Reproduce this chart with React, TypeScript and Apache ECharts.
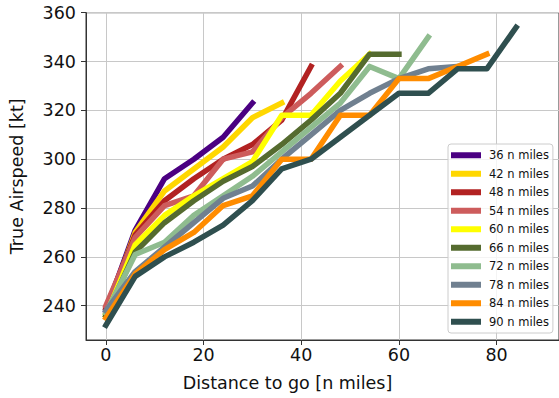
import React, { useEffect, useRef } from 'react';
import * as echarts from 'echarts';

const xValues = [0, 6, 12, 18, 24, 30, 36, 42, 48, 54, 60, 66, 72, 78, 84];
const seriesNames = ['36 n miles', '42 n miles', '48 n miles', '54 n miles', '60 n miles', '66 n miles', '72 n miles', '78 n miles', '84 n miles', '90 n miles'];
const seriesColors = ['#4B0082', '#FFD700', '#B22222', '#CD5C5C', '#FFFF00', '#556B2F', '#8FBC8F', '#708090', '#FF8C00', '#2F4F4F'];

const tas36 = [238, 271, 292, 300, 309, 323];
const tas42 = [237, 270, 287, 296, 305, 317, 323];
const tas48 = [239, 269, 283, 292, 300, 306, 316, 338];
const tas54 = [240, 268, 281, 285, 300, 303, 317, 327, 338];
const tas60 = [236, 265, 277, 285, 292, 299, 318, 318, 332, 343];
const tas66 = [236, 262, 274, 283, 291, 297, 306, 316, 327, 343, 343];
const tas72 = [237, 261, 266, 277, 285, 293, 303, 313, 323, 338, 333, 350];
const tas78 = [238, 254, 264, 274, 284, 289, 300, 310, 320, 327, 333, 337, 338];
const tas84 = [235, 253, 263, 270, 281, 285, 300, 300, 318, 318, 333, 333, 338, 343];
const tas90 = [232, 252, 260, 266, 273, 283, 296, 300, 309, 318, 327, 327, 337, 337, 354];

const allSeries = [tas36, tas42, tas48, tas54, tas60, tas66, tas72, tas78, tas84, tas90];

const xTickValues = [0, 20, 40, 60, 80];
const yTickValues = [240, 260, 280, 300, 320, 340, 360];

const FONT = 'DejaVu Sans';

export default function App() {
  const ref = useRef<HTMLDivElement>(null);
  useEffect(() => {
    document.body.style.margin = '0';
    const chart = echarts.init(ref.current!, null, { renderer: 'svg' });
    const series = allSeries.map((vals, i) => ({
      name: seriesNames[i],
      type: 'line',
      data: vals.map((v, j) => [xValues[j], v]),
      showSymbol: false,
      symbol: 'none',
      color: seriesColors[i],
      lineStyle: { color: seriesColors[i], width: 5.5, cap: 'square', join: 'round' },
      itemStyle: { color: seriesColors[i] },
      emphasis: { disabled: true },
      z: 2 + i,
    }));
    chart.setOption({
      animation: false,
      textStyle: { fontFamily: FONT },
      grid: {
        left: 86,
        right: -2,
        top: 12.7,
        bottom: 58,
        show: true,
        borderColor: '#333',
        borderWidth: 1,
        backgroundColor: 'transparent',
      },
      xAxis: {
        type: 'value',
        min: -4.08,
        max: 92.78,
        axisLine: { show: true, onZero: false, lineStyle: { color: '#333', width: 1 } },
        axisTick: { show: true, length: 5, lineStyle: { color: '#333' }, customValues: xTickValues },
        axisLabel: { customValues: xTickValues, fontSize: 17.5, color: '#111', margin: 6, fontFamily: FONT },
        splitLine: { show: true, lineStyle: { color: '#c8c8c8', width: 1 } },
      },
      yAxis: {
        type: 'value',
        min: 225.95,
        max: 360,
        name: 'True Airspeed [kt]',
        nameLocation: 'middle',
        nameGap: 60,
        nameTextStyle: { fontSize: 17.5, color: '#111', fontFamily: FONT },
        axisLine: { show: true, onZero: false, lineStyle: { color: '#333', width: 1 } },
        axisTick: { show: true, length: 5, lineStyle: { color: '#333' }, customValues: yTickValues },
        axisLabel: { customValues: yTickValues, fontSize: 17.5, color: '#111', margin: 10, fontFamily: FONT },
        splitLine: { show: true, lineStyle: { color: '#c8c8c8', width: 1 } },
      },
      legend: {
        orient: 'vertical',
        left: 448,
        top: 144,
        selectedMode: false,
        icon: 'rect',
        itemWidth: 30,
        itemHeight: 6,
        itemGap: 6,
        padding: [5, 4, 5, 3],
        backgroundColor: 'rgba(255,255,255,0.8)',
        borderColor: '#cccccc',
        borderWidth: 1,
        borderRadius: 3,
        textStyle: { fontSize: 11.5, lineHeight: 12.5, color: '#111', fontFamily: FONT, padding: [0, 0, 0, 3] },
        data: seriesNames,
        z: 20,
      },
      graphic: [
        {
          type: 'text',
          x: 287.5,
          y: 383,
          style: {
            text: 'Distance to go [n miles]',
            fontSize: 17.5,
            fontFamily: FONT,
            fill: '#111',
            align: 'center',
            verticalAlign: 'middle',
            textAlign: 'center',
            textVerticalAlign: 'middle',
          },
        },
      ],
      series,
    });
    return () => chart.dispose();
  }, []);
  return <div ref={ref} style={{ position: 'absolute', left: 0, top: 0, width: 559, height: 398 }} />;
}
